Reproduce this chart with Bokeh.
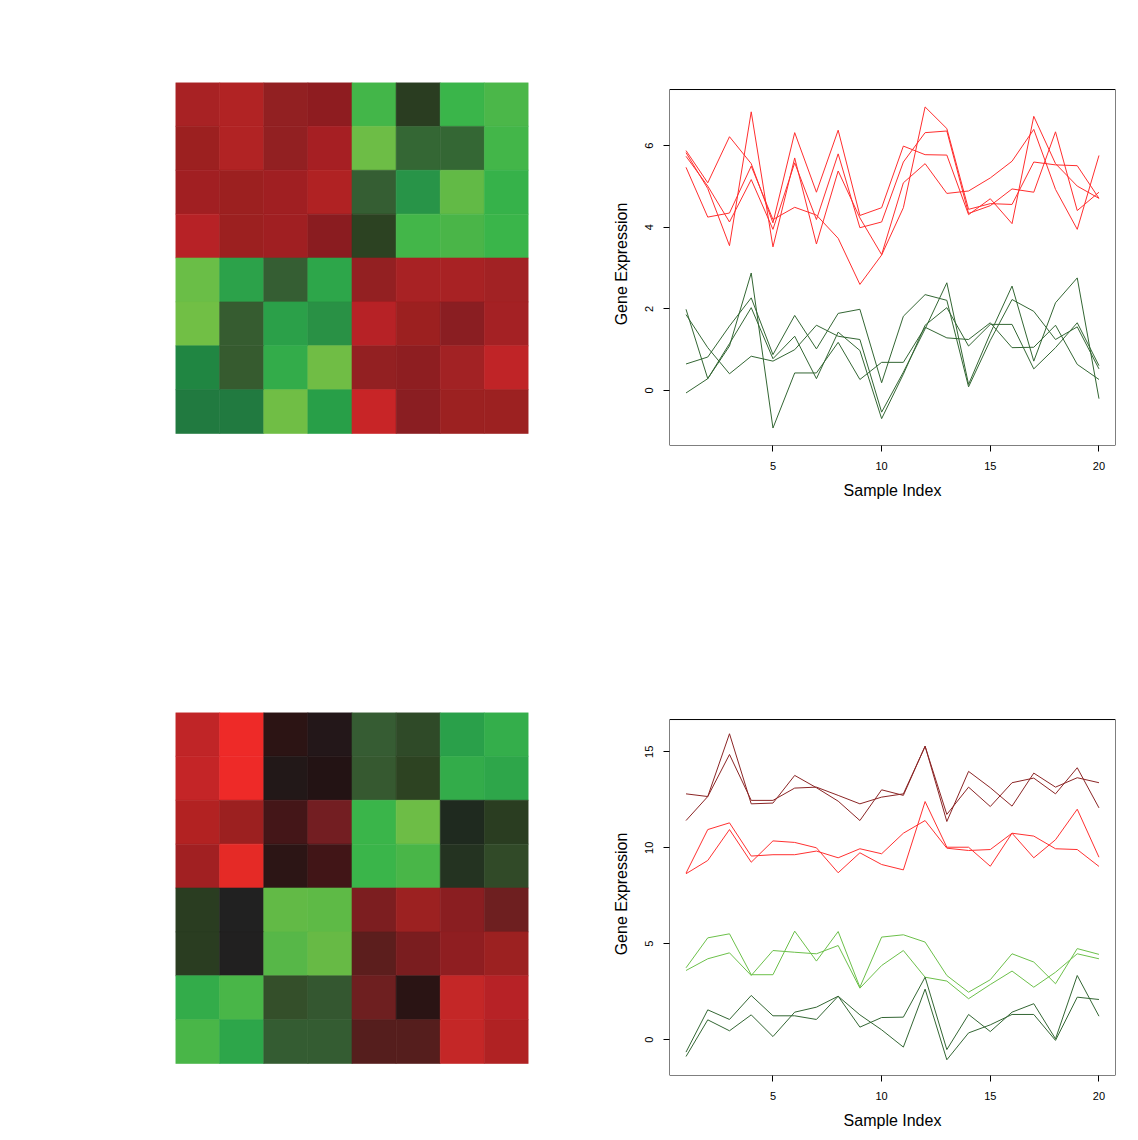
from bokeh.plotting import figure
from bokeh.layouts import column, row
from bokeh.models import Range1d, FixedTicker, ColumnDataSource, BoxAnnotation
from bokeh.embed import file_html
from bokeh.resources import INLINE

# ---------------------------------------------------------------------------
# Data
# ---------------------------------------------------------------------------
samples = list(range(1, 21))

# Simulation 1: two co-expressed gene groups (up / down)
sim1_up = [
    [5.88, 5.09, 6.22, 5.56, 4.11, 6.32, 4.86, 6.38, 4.29, 4.48,
     5.99, 5.78, 5.77, 4.31, 4.70, 4.09, 6.72, 5.56, 5.01, 4.71],
    [5.74, 5.01, 4.13, 5.17, 3.95, 5.58, 4.19, 5.80, 3.99, 4.13,
     5.60, 6.32, 6.36, 4.34, 4.53, 4.94, 4.86, 6.34, 4.41, 4.86],
    [5.47, 4.25, 4.35, 5.50, 4.19, 4.49, 4.30, 3.73, 2.60, 3.32,
     4.48, 6.95, 6.42, 4.44, 4.58, 4.56, 5.60, 5.53, 5.51, 4.71],
    [5.83, 4.95, 3.55, 6.83, 3.52, 5.70, 3.59, 5.38, 4.23, 3.33,
     5.09, 5.56, 4.83, 4.89, 5.21, 5.62, 6.40, 4.93, 3.95, 5.76],
]
sim1_down = [
    [1.99, 0.29, 1.09, 2.88, -0.92, 0.43, 0.43, 1.18, 0.27, 0.69,
     0.69, 1.55, 1.29, 1.25, 1.66, 1.05, 1.06, 1.60, 0.64, 0.27],
    [1.86, 1.05, 0.41, 0.84, 0.72, 1.00, 1.60, 1.33, 1.25, -0.53,
     0.45, 1.51, 2.64, 0.15, 1.40, 2.56, 0.72, 2.15, 2.76, -0.20],
    [0.65, 0.82, 1.58, 2.27, 0.88, 1.84, 1.02, 1.89, 1.99, 0.19,
     1.82, 2.35, 2.21, 0.09, 1.23, 2.23, 1.94, 1.25, 1.56, 0.53],
    [-0.06, 0.29, 1.15, 2.03, 0.78, 1.33, 0.29, 1.43, 0.98, -0.69,
     0.40, 1.60, 2.03, 1.09, 1.62, 1.62, 0.53, 1.05, 1.66, 0.61],
]

# Simulation 2: four gene groups at different expression levels
sim2_high = [
    [12.81, 12.67, 14.86, 12.47, 12.47, 13.11, 13.16, 12.73, 12.29, 12.64,
     12.81, 15.28, 11.74, 13.16, 12.15, 13.39, 13.63, 12.81, 14.17, 12.08],
    [11.42, 12.67, 15.94, 12.29, 12.33, 13.77, 13.13, 12.43, 11.42, 13.02,
     12.73, 15.30, 11.37, 13.98, 13.13, 12.17, 13.89, 13.16, 13.65, 13.39],
]
sim2_mid_high = [
    [8.65, 9.34, 10.95, 9.25, 10.36, 10.28, 10.00, 8.70, 9.74, 9.13,
     8.85, 12.41, 10.03, 10.03, 9.04, 10.76, 9.48, 10.42, 12.01, 9.51],
    [8.68, 10.95, 11.30, 9.57, 9.64, 9.64, 9.83, 9.48, 9.95, 9.69,
     10.76, 11.42, 9.98, 9.86, 9.91, 10.76, 10.61, 9.95, 9.91, 9.03],
]
sim2_mid_low = [
    [3.75, 5.31, 5.52, 3.39, 3.39, 5.66, 4.10, 5.64, 2.74, 5.35,
     5.47, 5.09, 3.35, 2.48, 3.13, 4.48, 4.05, 2.92, 4.75, 4.45],
    [3.61, 4.22, 4.53, 3.35, 4.65, 4.56, 4.48, 4.91, 2.69, 3.87,
     4.65, 3.26, 3.06, 2.14, 2.88, 3.58, 2.74, 3.52, 4.48, 4.22],
]
sim2_low = [
    [-0.64, 1.56, 1.06, 2.31, 1.25, 1.25, 1.06, 2.27, 1.30, 0.52,
     -0.38, 2.64, -1.04, 0.36, 0.78, 1.32, 1.32, -0.03, 2.22, 2.10],
    [-0.87, 1.04, 0.47, 1.30, 0.17, 1.44, 1.70, 2.27, 0.66, 1.16,
     1.18, 3.26, -0.51, 1.32, 0.43, 1.44, 1.88, 0.05, 3.35, 1.23],
]

x_ticks = [5, 10, 15, 20]
sim1_y_ticks = [0, 2, 4, 6]
sim2_y_ticks = [0, 5, 10, 15]

# Heatmap cell colours, row by row from the top
heat1_colors = [
    ["#A82224", "#B12324", "#922022", "#8E1C20", "#43B649", "#2A3D21", "#3AB54A", "#4BB749"],
    ["#9C2020", "#B12324", "#922022", "#A61F23", "#6DBD46", "#346734", "#346734", "#43B649"],
    ["#A11F22", "#9C2020", "#A01F22", "#B02223", "#355E33", "#289448", "#62BA46", "#36B24A"],
    ["#B72226", "#9C2020", "#A01F22", "#8A1C20", "#2C4222", "#43B649", "#4AB548", "#3AB54A"],
    ["#6ABE47", "#2CA24A", "#355E33", "#2DA64A", "#932022", "#A82224", "#A82224", "#A22224"],
    ["#71BF45", "#365C30", "#2BA049", "#299145", "#B72226", "#9C2020", "#8A1E22", "#A42124"],
    ["#208642", "#365B2F", "#33AC4A", "#70BD45", "#932022", "#8E1E21", "#A22224", "#C02427"],
    ["#217A40", "#217A40", "#70BE45", "#289F48", "#C82527", "#8A1E22", "#9C2121", "#9C2121"],
]
heat2_colors = [
    ["#C02527", "#EE2A28", "#2C1414", "#231719", "#365C33", "#2F4A28", "#2AA04A", "#34AE4B"],
    ["#C42527", "#EE2A28", "#221818", "#231314", "#365930", "#2D4322", "#33AC4A", "#2EA64A"],
    ["#B22222", "#9C2020", "#441618", "#731E22", "#3AB54A", "#6DBD46", "#1F2A1F", "#2A3D21"],
    ["#A12022", "#E52A26", "#2C1515", "#411517", "#3AB54A", "#49B648", "#243321", "#314A28"],
    ["#2A3D21", "#212121", "#62BA46", "#5EBA46", "#7C1E20", "#9C2121", "#8A1E21", "#6E1F20"],
    ["#2A3D21", "#212020", "#57B748", "#67BA45", "#5C1E1D", "#7A1D1F", "#8F1E21", "#9C2121"],
    ["#33AC4A", "#49B648", "#344F2A", "#345730", "#6E1F20", "#2A1414", "#C42727", "#B72226"],
    ["#49B648", "#2DA64A", "#345C32", "#345C32", "#551E1D", "#551E1D", "#C42727", "#B02223"],
]

FONT = "Liberation Sans"

# Plots that share a row get the same frame; the heatmap's square sits in the
# upper part of that frame and the profile plot's box is drawn explicitly.
FIG_W = 569
FIG_H = 570
PROFILE_X_RANGE = (0.24, 20.76)


def heatmap(colors, top, bottom, y_low):
    n_rows, n_cols = len(colors), len(colors[0])
    xs, ys, fills = [], [], []
    for r, row_colors in enumerate(colors):
        for c, col in enumerate(row_colors):
            xs.append(c + 0.5)
            ys.append(n_rows - r - 0.5)
            fills.append(col)
    src = ColumnDataSource(dict(x=xs, y=ys, fill=fills))
    p = figure(width=FIG_W, height=FIG_H, output_backend="svg",
               toolbar_location=None, x_range=Range1d(0, n_cols),
               y_range=Range1d(y_low, n_rows),
               min_border_left=175, min_border_right=41,
               min_border_top=top, min_border_bottom=bottom)
    p.axis.visible = False
    p.grid.visible = False
    p.outline_line_color = None
    p.background_fill_color = "white"
    p.border_fill_color = "white"
    p.rect("x", "y", width=1, height=1, source=src,
           fill_color="fill", line_color="fill", line_width=0.6)
    return p


def profile_plot(groups, y_low, y_high, box_top, y_ticks, top, bottom):
    p = figure(width=FIG_W, height=FIG_H, output_backend="svg",
               toolbar_location=None, x_range=Range1d(*PROFILE_X_RANGE),
               y_range=Range1d(y_low, y_high),
               min_border_left=100, min_border_right=23,
               min_border_top=top, min_border_bottom=bottom)
    p.grid.visible = False
    p.outline_line_color = None
    p.background_fill_color = "white"
    p.border_fill_color = "white"

    for series, color in groups:
        for ys in series:
            p.line(samples, ys, line_color=color, line_width=1)

    # plot box
    p.add_layout(BoxAnnotation(left=PROFILE_X_RANGE[0], right=PROFILE_X_RANGE[1],
                               bottom=y_low, top=box_top,
                               fill_color=None, fill_alpha=0,
                               line_color="black", line_alpha=1.0,
                               line_width=1))

    p.xaxis.ticker = FixedTicker(ticks=x_ticks)
    p.yaxis.ticker = FixedTicker(ticks=y_ticks)
    p.xaxis.axis_label = "Sample Index"
    p.yaxis.axis_label = "Gene Expression"
    p.yaxis.major_label_orientation = "vertical"
    for ax in (p.xaxis, p.yaxis):
        ax.axis_line_color = None
        ax.major_tick_in = 0
        ax.major_tick_out = 6
        ax.major_tick_line_color = "black"
        ax.minor_tick_line_color = None
        ax.major_label_text_font = FONT
        ax.major_label_text_font_size = "11px"
        ax.major_label_text_color = "black"
        ax.major_label_standoff = 10
        ax.axis_label_text_font = FONT
        ax.axis_label_text_font_size = "16px"
        ax.axis_label_text_font_style = "normal"
        ax.axis_label_text_color = "black"
    p.xaxis.axis_label_standoff = 9
    p.yaxis.axis_label_standoff = 13
    return p


h1 = heatmap(heat1_colors, top=82, bottom=125, y_low=-0.2735)
l1 = profile_plot([(sim1_up, "#FF2E2E"), (sim1_down, "#336633")],
                  y_low=-1.348, y_high=7.549, box_top=7.377,
                  y_ticks=sim1_y_ticks, top=82, bottom=125)

h2 = heatmap(heat2_colors, top=142, bottom=65, y_low=-0.2735)
l2 = profile_plot([(sim2_high, "#8B2525"), (sim2_mid_high, "#FF3030"),
                   (sim2_mid_low, "#6CC04A"), (sim2_low, "#336633")],
                  y_low=-1.859, y_high=17.047, box_top=16.68,
                  y_ticks=sim2_y_ticks, top=142, bottom=65)

layout = column(row(h1, l1), row(h2, l2))

open("out.html", "w").write(file_html(layout, INLINE))
